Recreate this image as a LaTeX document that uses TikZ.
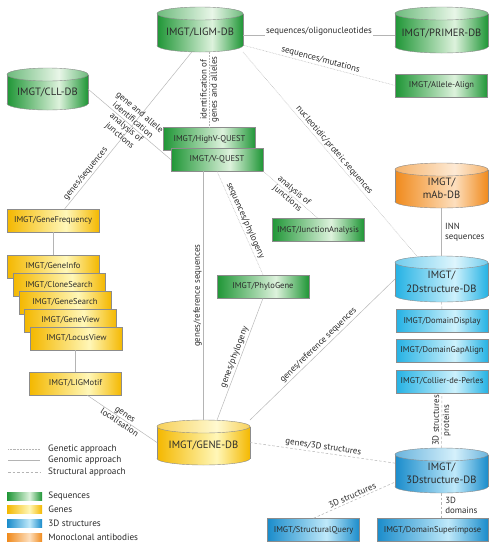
\documentclass[tikz,border=0pt]{standalone}
\usepackage{fontspec}
\setmainfont{PT Sans}
\usepackage{tikz}
\usetikzlibrary{calc, positioning}

\definecolor{ink}{HTML}{2B2B2B}
\definecolor{boxrim}{HTML}{8C8C8C}
\definecolor{linkgray}{HTML}{B4B4B4}
\definecolor{seqdark}{HTML}{1F9636}
\definecolor{seqlight}{HTML}{DDF2DC}
\definecolor{genedark}{HTML}{F4B800}
\definecolor{genelight}{HTML}{FFF7B8}
\definecolor{twoddark}{HTML}{25B2E4}
\definecolor{twodlight}{HTML}{CDF1FC}
\definecolor{threeddark}{HTML}{1A8CCB}
\definecolor{threedlight}{HTML}{BFE9FA}
\definecolor{mabdark}{HTML}{F08A1C}
\definecolor{mablight}{HTML}{FDDFBE}

\pgfdeclarehorizontalshading{seqshade}{100bp}{color(0bp)=(seqdark); color(25bp)=(seqdark); color(57bp)=(seqlight); color(75bp)=(seqdark); color(100bp)=(seqdark)}
\pgfdeclarehorizontalshading{geneshade}{100bp}{color(0bp)=(genedark); color(25bp)=(genedark); color(57bp)=(genelight); color(75bp)=(genedark); color(100bp)=(genedark)}
\pgfdeclarehorizontalshading{twodshade}{100bp}{color(0bp)=(twoddark); color(25bp)=(twoddark); color(57bp)=(twodlight); color(75bp)=(twoddark); color(100bp)=(twoddark)}
\pgfdeclarehorizontalshading{threedshade}{100bp}{color(0bp)=(threeddark); color(25bp)=(threeddark); color(57bp)=(threedlight); color(75bp)=(threeddark); color(100bp)=(threeddark)}
\pgfdeclarehorizontalshading{mabshade}{100bp}{color(0bp)=(mabdark); color(25bp)=(mabdark); color(57bp)=(mablight); color(75bp)=(mabdark); color(100bp)=(mabdark)}

% database cylinder: name, x, y, width, height, shading, text
\newcommand{\database}[7]{%
	\node[dbbox, minimum width=#4pt, minimum height=#5pt] (#1) at (#2,#3) {};
	\shade[shading=#6, draw=boxrim] ([yshift=\ry]#1.south) ellipse [x radius=#4pt/2, y radius=\ry];
	\shade[shading=#6] ([yshift=-\ry]#1.north west) rectangle ([yshift=\ry]#1.south east);
	\draw[boxrim] ([yshift=-\ry]#1.north west) -- ([yshift=\ry]#1.south west)
		([yshift=-\ry]#1.north east) -- ([yshift=\ry]#1.south east);
	\shade[shading=#6] ([yshift=-\ry]#1.north) ellipse [x radius=#4pt/2, y radius=\ry];
	\fill[white, opacity=.35, draw=boxrim, draw opacity=1] ([yshift=-\ry]#1.north) ellipse [x radius=#4pt/2, y radius=\ry];
	\node[dbtext] (#1-txt) at ([yshift=-3pt]#1.center) {#7};
}

\begin{document}
\begin{tikzpicture}[x=1pt, y=-1pt,
		dbbox/.style={inner sep=0pt, outer sep=0pt},
		dbtext/.style={font=\fontsize{10.6}{13.5}\selectfont, align=center, text=ink},
		tool/.style={draw=boxrim, line width=.5pt, shade, minimum width=92pt, minimum height=23pt, inner sep=0pt, font=\fontsize{8.5}{10}\selectfont, text=ink},
		seqtool/.style={tool, shading=seqshade},
		genetool/.style={tool, shading=geneshade},
		twodtool/.style={tool, shading=twodshade},
		threedtool/.style={tool, shading=threedshade},
		genetic/.style={draw=linkgray, line width=.5pt, dash pattern=on .6pt off .9pt},
		genomic/.style={draw=linkgray, line width=.45pt},
		structural/.style={draw=linkgray, line width=.5pt, dash pattern=on 2.5pt off 2pt},
		edgelabel/.style={font=\fontsize{8.9}{10.2}\selectfont, text=ink, inner sep=1.5pt},
		legtext/.style={font=\fontsize{9.2}{11}\selectfont, text=ink, inner sep=0pt, anchor=west},
		swatch/.style={shade, minimum width=35pt, minimum height=8pt, inner sep=0pt}]
	\def\ry{6.5pt}
	
	\fill[white] (0,0) rectangle (499,550);
	\useasboundingbox (0,0) rectangle (499,550);
	
	% databases
	\database{ligm}{200}{29.5}{86}{45}{seqshade}{IMGT/LIGM-DB}
	\database{cll}{47.5}{89}{81}{42}{seqshade}{IMGT/CLL-DB}
	\database{primer}{441.5}{30}{93}{46}{seqshade}{IMGT/PRIMER-DB}
	\database{mab}{441.5}{185.5}{93}{45}{mabshade}{IMGT/\\mAb-DB}
	\database{twod}{441.5}{279}{93}{46}{twodshade}{IMGT/\\2Dstructure-DB}
	\database{threed}{441.5}{470.5}{93}{45}{threedshade}{IMGT/\\3Dstructure-DB}
	\database{genedb}{203.5}{442.5}{93}{45}{geneshade}{IMGT/GENE-DB}
	
	% tools
	\node[seqtool] (allele) at (441.5,85.5) {IMGT/Allele-Align};
	\node[seqtool] (highv) at (209.5,139) {IMGT/HighV-QUEST};
	\node[seqtool] (vquest) at (217,159.5) {IMGT/V-QUEST};
	\node[seqtool] (junction) at (318,230) {IMGT/JunctionAnalysis};
	\node[seqtool] (phylo) at (263,286.5) {IMGT/PhyloGene};
	
	\node[genetool] (genefreq) at (53,220.5) {IMGT/GeneFrequency};
	\node[genetool] (geneinfo) at (53,266.5) {IMGT/GeneInfo};
	\node[genetool] (clonesearch) at (59,285) {IMGT/CloneSearch};
	\node[genetool] (genesearch) at (65,302.5) {IMGT/GeneSearch};
	\node[genetool] (geneview) at (70.5,320.5) {IMGT/GeneView};
	\node[genetool] (locusview) at (76.5,338.5) {IMGT/LocusView};
	\node[genetool] (ligmotif) at (75.5,383.5) {IMGT/LIGMotif};
	
	\node[twodtool] (domdisplay) at (442,321) {IMGT/DomainDisplay};
	\node[twodtool] (domgap) at (442,350.5) {IMGT/DomainGapAlign};
	\node[twodtool] (collier) at (442,381.5) {IMGT/Collier-de-Perles};
	
	\node[threedtool] (structq) at (313.5,530) {IMGT/StructuralQuery};
	\node[threedtool, minimum width=111pt] (domsup) at (432.5,530) {IMGT/DomainSuperimpose};
	
	% genetic approach
	\begin{scope}[genetic]
		\draw (ligm.-20) -- (allele.west) node [midway, sloped, above, edgelabel] {sequences/mutations};
		\draw (ligm.south east) -- (twod.137) node [midway, sloped, above, edgelabel] {nucleotidic/proteic sequences};
		\draw (highv.north) -- (ligm.south -| highv.north) node [midway, sloped, edgelabel, align=center] {identification of\\genes and alleles};
		\draw (vquest.south) -- (phylo.north) node [midway, sloped, above, edgelabel] {sequences/phylogeny};
		\draw (vquest.south east) -- (junction.north) node [midway, sloped, edgelabel, align=center] {analysis of\\junctions};
	\end{scope}
	
	% genomic approach
	\begin{scope}[genomic]
		\draw (ligm.-7) -- (primer.west |- ligm.-7) node [midway, above=-2.5pt, edgelabel, fill=white] {sequences/oligonucleotides};
		\draw (genefreq.45) -- (ligm.-110) node [pos=0.2, sloped, above, edgelabel] {genes/sequences};
		\draw (cll.east) -- (vquest.west) node [midway, sloped, edgelabel, align=center] {gene and allele\\identification\\analysis of\\junctions};
		\draw (genedb.north) -- (vquest.south -| genedb.north) node [midway, sloped, above, edgelabel] {genes/reference sequences};
		\draw (genefreq.south) -- (geneinfo.north);
		\draw (ligmotif.north) -- (ligmotif.north |- locusview.south);
		\draw (ligmotif.-45) -- (genedb.west) node [midway, sloped, edgelabel, align=center] {genes\\localisation};
		\draw (genedb.59) -- (phylo.south) node [midway, sloped, above, edgelabel] {genes/phylogeny};
		\draw (genedb.north east) -- (twod.west) node [midway, sloped, above, edgelabel] {genes/reference sequences};
		\draw (mab.south) -- (twod.north) node [midway, right=2pt, edgelabel, align=left] {INN\\sequences};
	\end{scope}
	
	% structural approach
	\begin{scope}[structural]
		\draw (genedb.east) -- (threed.171) node [midway, sloped, above, edgelabel] {genes/3D structures};
		\draw (structq.north) -- (threed.194) node [midway, sloped, above, edgelabel] {3D structures};
		\draw (twod.south) -- (domdisplay.north);
		\draw (threed.north) -- (collier.south) node [midway, sloped, edgelabel, align=center] {3D structures\\proteins};
		\draw (threed.south) -- (threed.south |- domsup.north) node [midway, right=2pt, edgelabel, align=left] {3D\\domains};
	\end{scope}
	
	% legend
	\coordinate (leg-a) at (8,449);
	\coordinate (leg-b) at (8,460.5);
	\coordinate (leg-c) at (8,472);
	\draw[genetic] (leg-a) -- ++(32,0) node [legtext, xshift=8pt] (leg-genetic) {Genetic approach};
	\draw[genomic] (leg-b) -- ++(32,0) node [legtext, xshift=8pt] (leg-genomic) {Genomic approach};
	\draw[structural] (leg-c) -- ++(32,0) node [legtext, xshift=8pt] (leg-structural) {Structural approach};
	
	\node[swatch, shading=seqshade] (sw-seq) at (24.5,496) {};
	\node[swatch, shading=geneshade] (sw-gene) at (24.5,509.5) {};
	\node[swatch, shading=threedshade] (sw-struct) at (24.5,523.5) {};
	\node[swatch, shading=mabshade] (sw-mab) at (24.5,537) {};
	\node[legtext, right=6pt of sw-seq] (sw-seq-txt) {Sequences};
	\node[legtext, right=6pt of sw-gene] (sw-gene-txt) {Genes};
	\node[legtext, right=6pt of sw-struct] (sw-struct-txt) {3D structures};
	\node[legtext, right=6pt of sw-mab] (sw-mab-txt) {Monoclonal antibodies};
\end{tikzpicture}
\end{document}
